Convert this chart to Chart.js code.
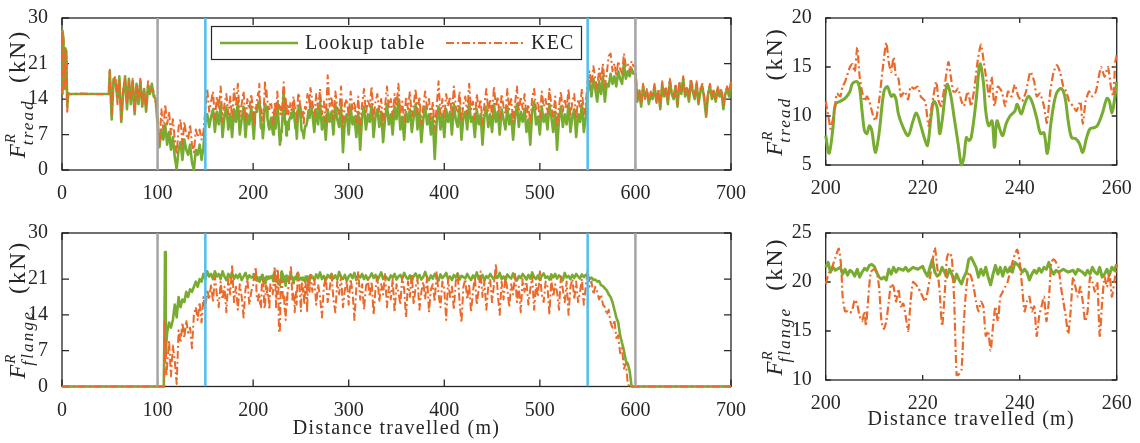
<!DOCTYPE html>
<html>
<head>
<meta charset="utf-8">
<script src="https://cdn.jsdelivr.net/npm/chart.js@4.4.0/dist/chart.umd.min.js"></script>
<style>
  body { margin: 0; background: #fff; width: 1140px; height: 443px; overflow: hidden; position: relative; }
  canvas { position: absolute; }
</style>
</head>
<body>
<canvas id="treadAll" width="750" height="205" style="left:0px;top:0px"></canvas>
<canvas id="flangeAll" width="750" height="228" style="left:0px;top:215px"></canvas>
<canvas id="treadZoom" width="380" height="205" style="left:760px;top:0px"></canvas>
<canvas id="flangeZoom" width="380" height="228" style="left:760px;top:215px"></canvas>
<script>
// regular distance grid (m)
function grid(start, end, step) {
  const a = [];
  for (let x = start; x <= end + 1e-9; x += step) a.push(+x.toFixed(2));
  return a;
}

// ---------- tread force, whole run ----------
const distTreadHead = [0, 0.5, 1.5, 2.5, 3.5, 4.5, 5.5, 6.5, 8, 20, 35, 49];
const lookTreadHead = [15, 27.5, 26, 16, 24, 23.5, 12.5, 15.2, 15, 15, 15, 15];
const kecTreadHead  = [15, 27, 25.5, 16.5, 23.5, 22.5, 11.5, 15, 15, 15.1, 15, 15];

const distA = grid(50, 198, 2);
const lookTreadA = [
  19.5, 10, 18, 17.5, 14, 18.5, 9.5, 15, 18.5, 12, 18, 13, 17.5, 11, 17, 13, 17.5, 12.5, 16, 11.5, 16.5, 15, 17, 14.5, 14,
  9, 4.5, 8, 6, 9, 5, 7.5, 4, 6.5, 2.5, 0.2, 4, 5.5, 2, 6, 4, 3, 5, 1.5, 0, 4, 3, 5, 2, 4.5,
  9.5, 11, 8.5, 10.5, 12, 7.5, 11.5, 9, 13, 6.5, 10.5, 12.5, 8, 11, 6.5, 12, 9.5, 13.5, 7, 10, 12.5, 6.5, 11, 9, 12.5
];
const kecTreadA = [
  19.8, 11, 17.5, 18.5, 13, 18, 9.8, 16, 18, 13, 17.5, 14, 18, 11.5, 16.5, 14, 18, 13, 15.5, 12, 17.5, 15.5, 16, 15.5, 13.5,
  11, 5, 12, 8, 13, 9, 11.5, 7, 10, 6, 3, 8.5, 10, 5, 9.5, 7, 6, 9, 5, 3.5, 8, 6.5, 8, 6, 7.5,
  12, 16, 11.5, 13.5, 15.5, 10, 14.5, 12, 16.5, 9.5, 13, 15, 11, 14.5, 10, 16, 12.5, 17, 10.5, 13, 15.5, 9.5, 14, 12, 15
];

// 200-260 m (also the right-hand zoom)
const zoomLookTreadX = [200,200.7,201.5,202,203,204,205,205.5,206.5,207,207.5,208,208.5,209,209.5,210,210.3,211,212,212.7,
  213.5,214,214.5,215,216,217,218,218.7,219.5,220.5,221,221.8,222.3,223,223.5,224,225,225.7,226.5,227.3,
  228,228.5,229,229.5,230,231,231.8,232.5,233,233.6,234.3,234.8,235.3,236,236.5,237.2,238,239,239.5,240.3,
  241,241.8,242.5,243.5,244.3,245,245.7,246.5,247.5,248.5,249.3,250,250.7,251.5,252.3,253,253.8,254.5,255.3,256,
  257,258,258.5,259,259.5,260];
const zoomLookTread = [8.0,6.2,8.8,11.2,11.5,11.8,12.5,13.3,13.5,12.8,10.5,8.5,8.2,9.0,8.5,6.8,6.3,8.2,12.5,13.0,
  12.0,12.2,11.7,10.2,8.8,8.0,9.5,10.3,9.2,7.5,7.0,10.2,11.5,10.8,8.2,9.5,13.2,12.3,9.8,7.2,
  5.0,5.8,7.8,7.5,7.8,11.5,15.3,13.5,10.5,9.0,9.5,6.8,9.5,8.5,8.0,9.2,10.0,10.5,11.2,10.2,
  11.2,12.0,11.5,9.8,8.2,8.3,6.2,9.5,12.2,12.8,12.0,9.5,7.8,7.7,7.2,6.3,7.8,8.7,8.8,9.0,
  10.2,11.8,11.5,10.3,11.5,13.5];
const zoomKecTreadX = [200,200.7,201,201.8,202.3,203,203.5,204,205,205.5,206,206.5,207,207.5,208,208.5,209,209.8,210.3,211,
  211.8,212.5,213,213.5,214,214.5,215,215.5,216.3,217,217.5,218.2,219,219.6,220.5,221.2,221.8,222.2,222.8,223.3,
  223.8,224.5,225.3,225.8,226.3,226.8,227.3,228,228.5,229.3,230,230.7,231.3,232,232.6,233.2,233.7,234.2,234.8,235.5,
  236.3,237,237.6,238.3,239,239.7,240.5,241.3,242.2,243,243.5,244.2,245,245.6,246.3,247,247.7,248.3,249,249.6,
  250.2,251,251.7,252.5,253,253.6,254.3,255,255.7,256.3,256.8,257.5,258.2,258.8,259.3,259.7,260];
const zoomKecTread = [11.5,9.5,8.7,10.5,12.3,12.0,13.0,13.5,15.0,15.3,14.5,17.0,14.0,12.5,11.5,12.0,11.5,10.0,9.5,11.5,
  15.0,17.5,15.5,14.5,16.0,14.0,13.8,12.0,12.5,11.7,13.0,12.8,13.0,12.0,11.5,9.0,10.8,12.0,13.5,11.5,
  11.0,13.0,15.5,14.0,12.5,12.5,12.8,11.5,11.0,12.5,11.0,13.0,15.5,17.3,15.5,13.5,12.0,14.0,11.0,13.0,
  12.5,11.0,12.5,12.0,13.2,12.0,11.5,12.5,14.5,13.5,12.0,12.3,11.0,9.3,12.5,14.5,15.2,14.5,13.0,12.5,
  11.5,11.0,10.5,11.5,9.2,11.5,12.5,12.0,12.5,14.0,15.0,14.0,15.0,13.0,12.0,15.5,16.2];

const distB = grid(262, 548, 2);
const lookTreadB = [
  11.0, 7.5, 12.0, 9.0, 13.5, 8.0, 10.5, 6.0, 12.0, 9.5,
  11.5, 7.0, 13.0, 10.0, 8.5, 12.5, 3.5, 10.0, 11.0, 7.0,
  12.5, 9.0, 10.5, 6.5, 11.5, 4.0, 10.5, 12.5, 8.0, 11.0,
  9.5, 13.0, 6.5, 10.5, 12.0, 8.5, 11.5, 5.5, 10.0, 13.0,
  9.0, 11.0, 7.0, 12.5, 10.0, 14.0, 8.0, 10.5, 6.0, 11.5,
  9.5, 12.0, 7.5, 10.5, 13.0, 8.0, 11.5, 5.5, 10.0, 12.5,
  9.0, 11.0, 7.0, 10.5, 2.2, 9.5, 12.5, 8.0, 11.0, 6.5,
  12.0, 9.5, 11.5, 7.0, 13.0, 10.0, 8.5, 12.5, 6.0, 10.5,
  11.5, 8.0, 13.5, 9.5, 10.5, 6.5, 12.0, 9.0, 11.0, 5.0,
  10.5, 12.5, 8.5, 11.0, 7.5, 13.0, 9.5, 11.5, 7.0, 12.0,
  10.0, 8.0, 12.5, 9.0, 11.0, 6.0, 10.5, 13.0, 8.5, 11.5,
  9.5, 12.0, 7.5, 10.0, 5.0, 11.5, 13.5, 9.0, 10.5, 7.0,
  12.5, 9.5, 11.0, 8.0, 13.0, 10.5, 7.5, 11.5, 4.0, 10.0,
  12.5, 8.5, 11.0, 9.0, 13.0, 7.5, 10.5, 12.0, 6.5, 11.0,
  9.5, 13.0, 7.5, 10.5
];
const kecTreadB = [
  13.5, 10.5, 15.0, 12.0, 16.0, 11.0, 13.5, 9.5, 18.7, 12.5,
  14.5, 10.0, 15.5, 12.5, 11.0, 16.5, 8.5, 13.0, 14.0, 10.5,
  15.5, 12.0, 13.5, 9.5, 14.5, 8.0, 13.0, 16.0, 11.0, 14.0,
  12.5, 16.5, 10.0, 13.5, 15.0, 11.5, 14.0, 9.0, 12.5, 16.5,
  12.0, 14.0, 10.5, 15.0, 12.5, 17.0, 11.0, 13.5, 9.5, 14.5,
  12.0, 15.5, 10.5, 13.0, 16.0, 11.0, 14.5, 9.0, 12.5, 15.5,
  12.0, 14.0, 10.0, 13.5, 8.0, 12.5, 17.5, 11.0, 14.0, 10.0,
  15.0, 12.5, 14.5, 10.5, 16.5, 12.5, 11.5, 15.5, 9.5, 13.0,
  14.5, 11.0, 17.0, 12.0, 13.5, 10.0, 15.0, 12.0, 14.0, 9.0,
  13.0, 16.0, 11.5, 14.0, 10.5, 16.5, 12.5, 14.5, 10.0, 15.0,
  12.5, 11.0, 16.0, 12.0, 14.0, 9.5, 13.0, 16.5, 11.5, 14.5,
  12.0, 15.0, 10.5, 13.0, 9.0, 14.5, 16.0, 12.0, 13.5, 10.0,
  15.5, 12.5, 14.0, 11.0, 16.0, 13.0, 10.5, 14.5, 8.5, 12.5,
  15.5, 11.5, 14.0, 12.0, 16.0, 10.5, 13.5, 15.0, 10.0, 14.0,
  12.5, 16.0, 11.0, 13.0
];

const distC = grid(550, 700, 2);
const lookTreadC = [
  15.5, 17.5, 14.5, 18.0, 16.0, 13.5, 17.5, 15.0, 18.5, 13.5, 17.0, 16.5, 19.0, 17.0, 18.5, 16.5, 19.5, 18.0, 17.0, 21.0, 18.0, 19.5, 18.5, 20.0, 19.0,
  19.0, 13.5, 15.5, 12.5, 16.5, 14.5, 15.5, 13.0, 15.0, 14.0,
  16.5, 13.5, 15.5, 12.0, 17.0, 14.5, 16.0, 13.0, 17.5, 15.0,
  14.0, 16.5, 12.5, 17.0, 15.0, 18.0, 14.5, 16.0, 13.5, 17.5,
  15.5, 14.0, 17.0, 13.0, 15.5, 16.5, 14.0, 10.5, 15.0, 16.5,
  14.0, 15.5, 13.5, 16.0, 14.5, 15.5, 12.0, 15.0, 16.0, 14.5, 17.0
];
const kecTreadC = [
  17.5, 19.5, 16.5, 20.5, 18.0, 16.0, 20.0, 17.5, 21.0, 16.5, 19.0, 22.5, 23.0, 19.5, 21.0, 18.5, 21.5, 20.0, 19.0, 23.0, 20.5, 21.0, 19.5, 21.5, 20.5,
  20.5, 14.0, 16.0, 13.0, 17.0, 14.0, 16.0, 13.5, 15.5, 14.5,
  17.0, 13.0, 16.0, 12.5, 17.5, 15.0, 16.5, 13.5, 18.0, 15.5,
  14.5, 17.0, 13.0, 17.5, 15.5, 18.5, 15.0, 16.5, 14.0, 18.0,
  16.0, 14.5, 17.5, 13.5, 16.0, 17.0, 14.5, 11.0, 15.5, 17.0,
  14.5, 16.0, 14.0, 16.5, 15.0, 16.0, 12.5, 15.5, 16.5, 15.0, 17.5
];

// ---------- flange force, whole run ----------
const distFlangeHeadLook = [0, 104, 106.5, 107.2, 107.8, 108.3, 108.8];
const lookFlangeHead = [0, 0, 0, 12, 26.3, 15, 7];
const distFlangeHeadKec = [0, 104, 106.8, 107.4, 108, 108.6, 109.2];
const kecFlangeHead = [0, 0, 0, 13, 5, 9, 2];

const distF = grid(110, 198, 2);
const lookFlangeA = [
  10.5, 12.5, 11.5, 13.0, 16.0, 13.5, 17.5, 15.5, 17.0, 16.5, 18.5, 17.5, 19.0, 18.5, 19.5,
  20.5, 19.5, 21.0, 20.5, 22.0, 21.0, 22.5, 21.5, 22.0, 21.0, 22.5, 21.5, 22.0, 21.0, 22.5,
  21.5, 20.8, 22.0, 21.3, 22.3, 21.0, 21.8, 21.2, 22.0, 20.8, 21.5, 22.2, 21.0, 21.7, 21.3
];
const kecFlangeA = [
  4, 9, 2, 8, 5, 0.5, 11, 8.5, 12.5, 9.5, 13.0, 10.5, 11.5, 7.5, 14.0,
  15.5, 13.0, 16.5, 12.5, 17.5, 15.0, 19.0, 17.0, 20.0, 16.5, 21.5, 18.0, 15.5, 20.5, 17.0,
  19.5, 14.5, 21.0, 18.0, 23.5, 16.5, 19.5, 15.0, 20.0, 17.5, 13.5, 19.0, 21.0, 16.0, 18.5
];

const zoomLookFlangeX = [200,200.5,201,201.5,202,203,203.5,204,204.5,205,205.5,206,206.5,207,207.5,208,208.5,209,209.5,210,
  210.5,211,211.5,212,212.5,213,213.5,214,214.5,215,216,216.5,217,218,219,220,220.5,221,221.5,222,
  222.5,223,223.5,224,224.5,225,225.5,226,226.5,227,227.5,228,228.5,229,229.5,230,230.5,231,231.5,232,
  232.5,233,233.5,234,234.5,235,235.5,236,236.5,237,237.5,238,238.5,239,239.5,240,240.5,241,241.5,242,
  242.5,243,243.5,244,244.5,245,245.5,246,246.5,247,247.5,248,249,250,251,251.5,252,253,253.5,254,
  254.5,255,255.5,256,256.5,257,257.5,258,258.5,259,259.5,260];
const zoomLookFlange = [21.5,22.0,21.0,21.5,21.2,21.5,20.8,21.3,20.7,21.2,21.0,20.6,21.3,20.5,21.0,21.4,21.2,21.7,21.8,21.6,
  21.0,20.5,20.3,20.5,20.2,21.3,20.8,21.5,21.0,21.4,21.2,21.5,21.1,21.5,21.3,21.6,21.0,20.6,21.5,22.3,
  21.0,20.6,20.8,21.5,21.0,20.5,21.3,20.8,20.0,20.8,20.2,19.8,20.5,21.0,22.3,22.5,22.0,21.5,20.5,21.3,
  20.7,21.5,20.5,19.7,20.8,21.7,20.8,21.5,20.6,21.5,21.0,21.5,21.0,22.0,21.8,21.5,21.0,21.3,21.0,20.2,
  20.8,21.2,20.9,21.4,21.0,21.5,21.3,22.0,21.2,20.8,21.2,21.0,21.3,21.0,21.2,20.8,21.3,21.0,20.7,21.2,
  20.8,21.5,21.0,20.8,21.5,20.5,20.8,21.3,20.7,21.5,21.2,21.8];
const zoomKecFlangeX = [200,200.7,201.3,202,202.7,203.2,203.5,204,204.5,205,205.5,206,206.5,207,207.5,208,208.3,208.8,209.3,210,
  210.5,211,211.5,212,212.5,213,213.5,214,214.5,215,215.5,216,216.5,217,217.5,218,218.5,219,219.5,220,
  220.5,221,221.5,222,222.5,223,223.5,224,224.5,225,225.5,226,226.5,227,227.5,228,228.5,229,229.5,230,
  230.5,231,231.5,232,232.5,233,233.5,234,234.5,235,235.5,236,236.5,237,237.5,238,238.5,239,239.5,240,
  240.5,241,241.5,242,242.5,243,243.5,244,244.5,245,245.5,246,246.5,247,247.5,248,248.5,249,249.5,250,
  250.5,251,251.5,252,252.5,253,253.5,254,254.5,255,255.5,256,256.5,257,257.5,258,258.5,259,259.5,260];
const zoomKecFlange = [19.8,21.0,21.5,22.5,23.4,21.5,18.5,17.0,17.0,16.8,17.2,18.2,17.7,16.5,16.0,17.0,15.5,18.5,21.0,21.3,
  21.0,19.5,16.0,15.2,16.0,18.0,19.8,19.5,18.0,19.3,17.5,17.8,16.5,15.0,18.0,20.0,19.8,19.5,19.0,18.5,
  18.0,19.0,20.5,22.0,23.5,21.5,19.0,15.5,18.5,22.5,23.0,22.5,18.0,10.5,10.6,11.0,16.0,19.5,21.0,20.5,
  19.5,18.0,17.0,18.0,17.5,14.5,15.0,13.0,15.5,17.5,16.0,18.5,19.0,19.5,20.0,21.0,22.0,22.8,23.3,22.0,
  19.5,17.0,18.0,18.5,17.0,17.5,14.5,16.5,17.5,18.5,16.0,18.0,22.0,22.3,22.0,21.5,19.5,18.0,16.5,14.7,
  17.0,20.5,19.5,18.5,19.5,18.0,16.0,17.0,20.5,20.0,19.0,20.0,14.5,18.0,20.5,19.5,21.0,18.5,20.0,21.8];

const lookFlangeB = [
  21.5, 20.8, 21.9, 21.2, 22.3, 21.0, 21.6, 20.7, 21.8, 21.3,
  22.0, 21.1, 21.7, 20.9, 22.4, 21.4, 21.0, 21.8, 20.6, 21.5,
  21.9, 21.2, 22.2, 20.8, 21.6, 21.3, 22.0, 21.0, 21.7, 20.9,
  21.4, 22.1, 21.2, 21.8, 20.7, 21.5, 22.3, 21.0, 21.6, 21.2,
  20.8, 21.7, 21.3, 22.0, 20.9, 21.5, 21.8, 21.1, 22.2, 21.4,
  21.0, 21.7, 20.6, 21.6, 22.1, 21.2, 21.8, 20.9, 21.4, 22.4,
  21.3, 20.8, 21.7, 21.1, 22.0, 21.5, 20.7, 21.9, 21.2, 21.6,
  22.2, 21.0, 21.5, 20.8, 21.8, 21.3, 22.1, 20.9, 21.6, 21.4,
  21.1, 22.0, 21.3, 20.8, 21.7, 21.2, 22.3, 21.0, 21.5, 21.8,
  20.7, 21.6, 21.2, 22.0, 21.4, 20.9, 21.7, 21.3, 22.2, 21.0,
  21.5, 20.8, 21.9, 21.4, 21.1, 22.1, 21.3, 20.7, 21.6, 21.2,
  22.0, 21.5, 20.9, 21.8, 21.1, 22.3, 21.4, 21.0, 21.7, 20.8,
  21.6, 22.1, 21.2, 21.5, 20.9, 21.9, 21.3, 22.0, 21.1, 21.7,
  21.4, 20.8, 22.2, 21.3, 21.6, 21.0, 21.8, 21.2, 22.0, 21.5,
  21.1, 21.9, 21.4, 21.8
];
const kecFlangeB = [
  18.5, 21.0, 16.0, 20.0, 17.5, 13.5, 19.5, 21.5, 16.5, 19.0,
  22.0, 17.0, 14.5, 20.5, 18.0, 21.5, 15.5, 19.0, 20.5, 16.0,
  21.0, 18.5, 13.0, 19.5, 22.5, 17.0, 20.0, 15.0, 19.5, 21.0,
  17.5, 20.5, 14.0, 19.0, 21.5, 16.5, 20.0, 18.0, 22.0, 15.5,
  19.5, 17.0, 21.0, 14.5, 20.0, 18.5, 16.0, 21.5, 19.0, 13.5,
  20.5, 17.5, 22.0, 16.0, 19.5, 21.0, 15.0, 18.5, 20.5, 17.0,
  21.5, 14.5, 19.0, 20.0, 16.5, 22.5, 18.0, 15.5, 20.5, 19.0,
  13.0, 21.0, 17.5, 19.5, 15.0, 20.5, 22.0, 16.5, 12.5, 19.5,
  21.0, 17.0, 20.0, 14.5, 18.5, 21.5, 16.0, 19.0, 22.5, 17.5,
  20.5, 15.0, 19.5, 21.0, 16.5, 20.0, 24.0, 18.0, 14.0, 20.5,
  17.0, 21.5, 19.0, 15.5, 20.0, 18.0, 22.0, 16.5, 19.5, 14.5,
  21.0, 18.5, 20.5, 16.0, 19.0, 21.5, 15.0, 20.0, 17.5, 22.5,
  18.0, 16.5, 20.5, 19.5, 14.0, 21.0, 17.5, 20.0, 18.5, 15.0,
  21.5, 19.0, 16.5, 20.5, 14.0, 19.5, 21.0, 17.0, 20.5, 16.5,
  18.5, 21.0, 16.0, 19.5
];

const distG = grid(550, 598, 2);
const lookFlangeC = [21.5, 21.0, 21.3, 20.8, 20.9, 20.5, 20.6, 19.8, 19.6, 19.2, 18.8, 18.0, 17.5, 16.5, 15.0,
  13.5, 12.5, 10.0, 8.5, 7.0, 5.0, 4.5, 3.0, 0, 0];
const kecFlangeC = [23.0, 19.5, 20.5, 18.0, 19.5, 18.5, 17.0, 18.0, 16.0, 15.5, 14.0, 15.0, 12.5, 11.5, 13.0,
  9.5, 10.0, 6.5, 7.5, 3.5, 4.5, 0.5, 0, 0, 0];
const distFlangeTail = [600, 700];
const flangeTail = [0, 0];

// marker lines (m)
const grayMarks = [100, 600];
const cyanMarks = [150, 550];

// ---------- styles ----------
const INK = '#262626';
const GREEN = '#77AC30';
const ORANGE = '#EA6A2B';
const GRAY = '#A6A6A6';
const CYAN = '#4DBEEE';
const SERIF = '"Liberation Serif", "DejaVu Serif", serif';
const DASHDOT = [8, 3, 2, 3];

function pts(xs, ys) { return xs.map((x, i) => ({ x: x, y: ys[i] })); }

function lineSet(label, points, color, width, dash, order, tension) {
  return {
    label: label, data: points, borderColor: color, borderWidth: width, borderDash: dash || [],
    pointRadius: 0, fill: false, tension: tension || 0, order: order, clip: false,
    borderJoinStyle: 'round'
  };
}
function markerSet(xs, yMin, yMax, color) {
  const p = [];
  xs.forEach(x => { p.push({ x: x, y: yMin }, { x: x, y: yMax }, { x: x, y: null }); });
  return { label: '', data: p, borderColor: color, borderWidth: 2.5, pointRadius: 0, order: 0, spanGaps: false, marker: true };
}

// rotated "F^R_sub (kN)" label, bx = baseline x, cy = centre
function drawYLabel(ctx, bx, cy, sub) {
  ctx.save();
  ctx.translate(bx, cy);
  ctx.rotate(-Math.PI / 2);
  ctx.fillStyle = INK;
  ctx.textAlign = 'left';
  ctx.textBaseline = 'alphabetic';
  ctx.font = 'italic 23px ' + SERIF;
  const wF = ctx.measureText('F').width;
  ctx.font = 'italic 17px ' + SERIF;
  ctx.letterSpacing = '2.2px';
  const wSub = ctx.measureText(sub).width;
  ctx.font = '24px ' + SERIF;
  ctx.letterSpacing = '2px';
  const wUnit = ctx.measureText('(kN)').width;
  const gap = 15;
  let x = -(wF + wSub + gap + wUnit) / 2;
  ctx.letterSpacing = '0px';
  ctx.font = 'italic 23px ' + SERIF;
  ctx.fillText('F', x, 0);
  ctx.font = 'italic 15px ' + SERIF;
  ctx.fillText('R', x + wF + 1, -10);
  ctx.font = 'italic 17px ' + SERIF;
  ctx.letterSpacing = '2.2px';
  ctx.fillText(sub, x + wF - 1, 8);
  x += wF + wSub + gap;
  ctx.font = '24px ' + SERIF;
  ctx.letterSpacing = '2px';
  ctx.fillText('(kN)', x, 0);
  ctx.restore();
}

function drawLegend(chart, ctx) {
  const sets = chart.data.datasets.filter(d => !d.marker);
  ctx.save();
  ctx.fillStyle = '#fff';
  ctx.fillRect(211, 26, 371, 34);
  ctx.strokeStyle = INK;
  ctx.lineWidth = 1.2;
  ctx.strokeRect(211.5, 26.5, 370, 33);
  const slots = [[220, 298, 305], [446, 525, 531]];
  sets.forEach((d, i) => {
    const s = slots[i];
    ctx.beginPath();
    ctx.strokeStyle = d.borderColor;
    ctx.lineWidth = d.borderWidth;
    ctx.setLineDash(d.borderDash);
    ctx.moveTo(s[0], 43);
    ctx.lineTo(s[1], 43);
    ctx.stroke();
    ctx.setLineDash([]);
    ctx.fillStyle = INK;
    ctx.font = '20px ' + SERIF;
    ctx.letterSpacing = '1.2px';
    ctx.textBaseline = 'middle';
    ctx.fillText(d.label, s[2], 44);
  });
  ctx.restore();
}

const framePlugin = {
  id: 'frame',
  // box and inward ticks go under the data, as in the original
  beforeDatasetsDraw(chart, args, opts) {
    const ctx = chart.ctx;
    const a = chart.chartArea;
    const sx = chart.scales.x, sy = chart.scales.y;
    ctx.save();
    ctx.strokeStyle = INK;
    ctx.lineWidth = 1.3;
    ctx.strokeRect(a.left, a.top, a.right - a.left, a.bottom - a.top);
    ctx.beginPath();
    const L = opts.tickLen;
    sx.ticks.forEach(t => {
      const px = sx.getPixelForValue(t.value);
      ctx.moveTo(px, a.bottom); ctx.lineTo(px, a.bottom - L);
      ctx.moveTo(px, a.top); ctx.lineTo(px, a.top + L);
    });
    sy.ticks.forEach(t => {
      const py = sy.getPixelForValue(t.value);
      ctx.moveTo(a.left, py); ctx.lineTo(a.left + L, py);
      ctx.moveTo(a.right, py); ctx.lineTo(a.right - L, py);
    });
    ctx.stroke();
    ctx.restore();
  },
  afterDraw(chart, args, opts) {
    const ctx = chart.ctx;
    const a = chart.chartArea;
    drawYLabel(ctx, opts.labelX, (a.top + a.bottom) / 2, opts.sub);
    if (opts.xTitle) {
      ctx.save();
      ctx.fillStyle = INK;
      ctx.font = '20px ' + SERIF;
      ctx.letterSpacing = '1.3px';
      ctx.textAlign = 'center';
      ctx.textBaseline = 'alphabetic';
      ctx.fillText('Distance travelled (m)', (a.left + a.right) / 2, opts.titleY);
      ctx.restore();
    }
    if (opts.legend) drawLegend(chart, ctx);
  }
};

function makeChart(id, c) {
  const tickFont = { family: SERIF, size: 20 };
  return new Chart(document.getElementById(id), {
    type: 'line',
    data: { datasets: c.datasets },
    options: {
      responsive: false,
      animation: false,
      events: [],
      layout: { padding: c.padding },
      plugins: { legend: { display: false }, tooltip: { enabled: false }, frame: c.frame },
      scales: {
        x: {
          type: 'linear', min: c.xMin, max: c.xMax,
          grid: { display: false }, border: { display: false },
          ticks: { stepSize: c.xStep, autoSkip: false, maxRotation: 0, padding: 4, color: INK, font: tickFont },
          afterFit(s) { s.height = c.xHeight; }
        },
        y: {
          type: 'linear', min: c.yMin, max: c.yMax,
          grid: { display: false }, border: { display: false },
          ticks: { stepSize: c.yStep, padding: 6, color: INK, font: tickFont },
          afterBuildTicks: c.yTicks ? (s => { s.ticks = c.yTicks.map(v => ({ value: v })); }) : undefined,
          afterFit(s) { s.width = c.yWidth; }
        }
      }
    },
    plugins: [framePlugin]
  });
}

// top left: tread, whole run
makeChart('treadAll', {
  datasets: [
    lineSet('Lookup table', [].concat(pts(distTreadHead, lookTreadHead), pts(distA, lookTreadA),
      pts(zoomLookTreadX, zoomLookTread), pts(distB, lookTreadB), pts(distC, lookTreadC)), GREEN, 2.6, [], 2),
    lineSet('KEC', [].concat(pts(distTreadHead, kecTreadHead), pts(distA, kecTreadA),
      pts(zoomKecTreadX, zoomKecTread), pts(distB, kecTreadB), pts(distC, kecTreadC)), ORANGE, 2.0, DASHDOT, 1),
    markerSet(grayMarks, 0, 30, GRAY),
    markerSet(cyanMarks, 0, 30, CYAN)
  ],
  padding: { top: 15, right: 15, left: 0, bottom: 0 },
  xMin: 0, xMax: 700, xStep: 100, xHeight: 35,
  yMin: 0, yMax: 30, yTicks: [0, 7, 14, 21, 30], yWidth: 62,
  frame: { tickLen: 7, labelX: 25, sub: 'tread', legend: true }
});

// bottom left: flange, whole run
makeChart('flangeAll', {
  datasets: [
    lineSet('Lookup table', [].concat(pts(distFlangeHeadLook, lookFlangeHead), pts(distF, lookFlangeA),
      pts(zoomLookFlangeX, zoomLookFlange), pts(distB, lookFlangeB), pts(distG, lookFlangeC),
      pts(distFlangeTail, flangeTail)), GREEN, 2.6, [], 2),
    lineSet('KEC', [].concat(pts(distFlangeHeadKec, kecFlangeHead), pts(distF, kecFlangeA),
      pts(zoomKecFlangeX, zoomKecFlange), pts(distB, kecFlangeB), pts(distG, kecFlangeC),
      pts(distFlangeTail, flangeTail)), ORANGE, 2.0, DASHDOT, 1),
    markerSet(grayMarks, 0, 30, GRAY),
    markerSet(cyanMarks, 0, 30, CYAN)
  ],
  padding: { top: 16, right: 15, left: 0, bottom: 0 },
  xMin: 0, xMax: 700, xStep: 100, xHeight: 56.5,
  yMin: 0, yMax: 30, yTicks: [0, 7, 14, 21, 30], yWidth: 62,
  frame: { tickLen: 7, labelX: 25, sub: 'flange', xTitle: true, titleY: 219 }
});

// top right: tread, 200-260 m
makeChart('treadZoom', {
  datasets: [
    lineSet('Lookup table', pts(zoomLookTreadX, zoomLookTread), GREEN, 3, [], 2, 0.35),
    lineSet('KEC', pts(zoomKecTreadX, zoomKecTread), ORANGE, 2.2, DASHDOT, 1, 0.2)
  ],
  padding: { top: 15, right: 23.3, left: 0, bottom: 0 },
  xMin: 200, xMax: 260, xStep: 20, xHeight: 40,
  yMin: 5, yMax: 20, yStep: 5, yWidth: 65.7,
  frame: { tickLen: 5, labelX: 22, sub: 'tread' }
});

// bottom right: flange, 200-260 m
makeChart('flangeZoom', {
  datasets: [
    lineSet('Lookup table', pts(zoomLookFlangeX, zoomLookFlange), GREEN, 3, [], 2, 0),
    lineSet('KEC', pts(zoomKecFlangeX, zoomKecFlange), ORANGE, 2.2, DASHDOT, 1, 0.2)
  ],
  padding: { top: 15.7, right: 23.3, left: 0, bottom: 0 },
  xMin: 200, xMax: 260, xStep: 20, xHeight: 63,
  yMin: 10, yMax: 25, yStep: 5, yWidth: 65.7,
  frame: { tickLen: 5, labelX: 22, sub: 'flange', xTitle: true, titleY: 210 }
});
</script>
</body>
</html>
